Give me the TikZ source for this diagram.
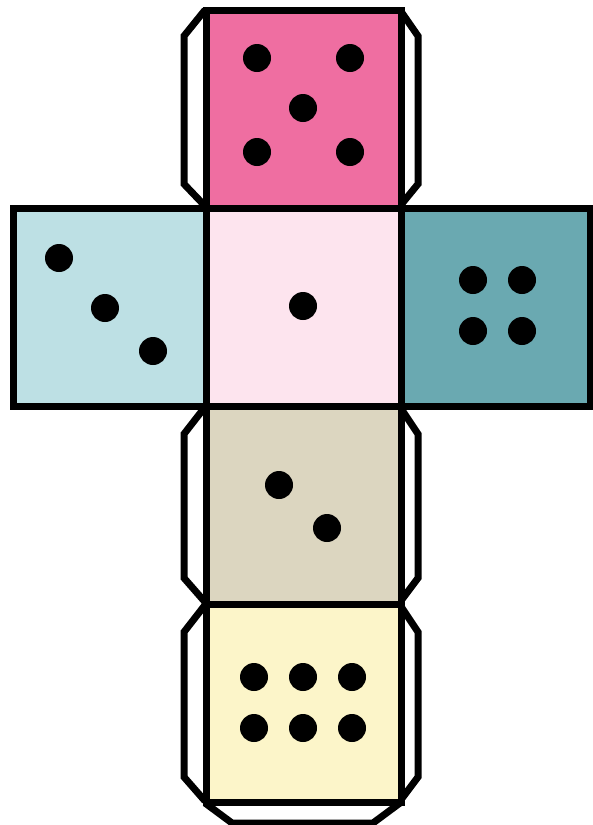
\documentclass[tikz,border=0pt]{standalone}
\definecolor{cPink}{HTML}{EF6EA1}
\definecolor{cLblue}{HTML}{BDE0E4}
\definecolor{cLpink}{HTML}{FDE4EE}
\definecolor{cTeal}{HTML}{6AA9B1}
\definecolor{cBeige}{HTML}{DCD6C0}
\definecolor{cYellow}{HTML}{FCF5C9}
\tikzset{
  face/.style={draw=black, line width=7pt, line join=miter},
  flap/.style={draw=black, fill=white, line width=7pt, line join=miter},
  pip/.style={circle, fill=black, minimum size=28pt, inner sep=0pt}
}
\begin{document}
\begin{tikzpicture}[x=1pt,y=-1pt]
\useasboundingbox (0,0) rectangle (593,825);
% flaps
\draw[flap] (205,10) -- (184,36) -- (184,184) -- (205,206);
\draw[flap] (400,10) -- (418,36) -- (418,184) -- (400,206);
\draw[flap] (205,407) -- (184,434) -- (184,578) -- (205,602);
\draw[flap] (400,407) -- (418,434) -- (418,578) -- (400,602);
\draw[flap] (205,605) -- (184,632) -- (184,777) -- (205,801);
\draw[flap] (400,605) -- (418,632) -- (418,777) -- (400,801);
\draw[flap] (205,803) -- (232,823) -- (373,823) -- (400,803);
% faces
\draw[face, fill=cPink] (206,10) rectangle (401,208);
\draw[face, fill=cLblue] (13,208) rectangle (206,406);
\draw[face, fill=cLpink] (206,208) rectangle (401,406);
\draw[face, fill=cTeal] (401,208) rectangle (590,406);
\draw[face, fill=cBeige] (206,406) rectangle (401,604);
\draw[face, fill=cYellow] (206,604) rectangle (401,802);
% pips: five
\node[pip] (p51) at (257,58) {};
\node[pip] (p52) at (350,58) {};
\node[pip] (p53) at (303,108) {};
\node[pip] (p54) at (257,152) {};
\node[pip] (p55) at (350,152) {};
% three
\node[pip] (p31) at (59,258) {};
\node[pip] (p32) at (105,308) {};
\node[pip] (p33) at (153,351) {};
% one
\node[pip] (p11) at (303,306) {};
% four
\node[pip] (p41) at (473,280) {};
\node[pip] (p42) at (522,280) {};
\node[pip] (p43) at (473,331) {};
\node[pip] (p44) at (522,331) {};
% two
\node[pip] (p21) at (279,485) {};
\node[pip] (p22) at (327,528) {};
% six
\node[pip] (p61) at (254,677) {};
\node[pip] (p62) at (303,677) {};
\node[pip] (p63) at (352,677) {};
\node[pip] (p64) at (254,728) {};
\node[pip] (p65) at (303,728) {};
\node[pip] (p66) at (352,728) {};
\end{tikzpicture}
\end{document}
